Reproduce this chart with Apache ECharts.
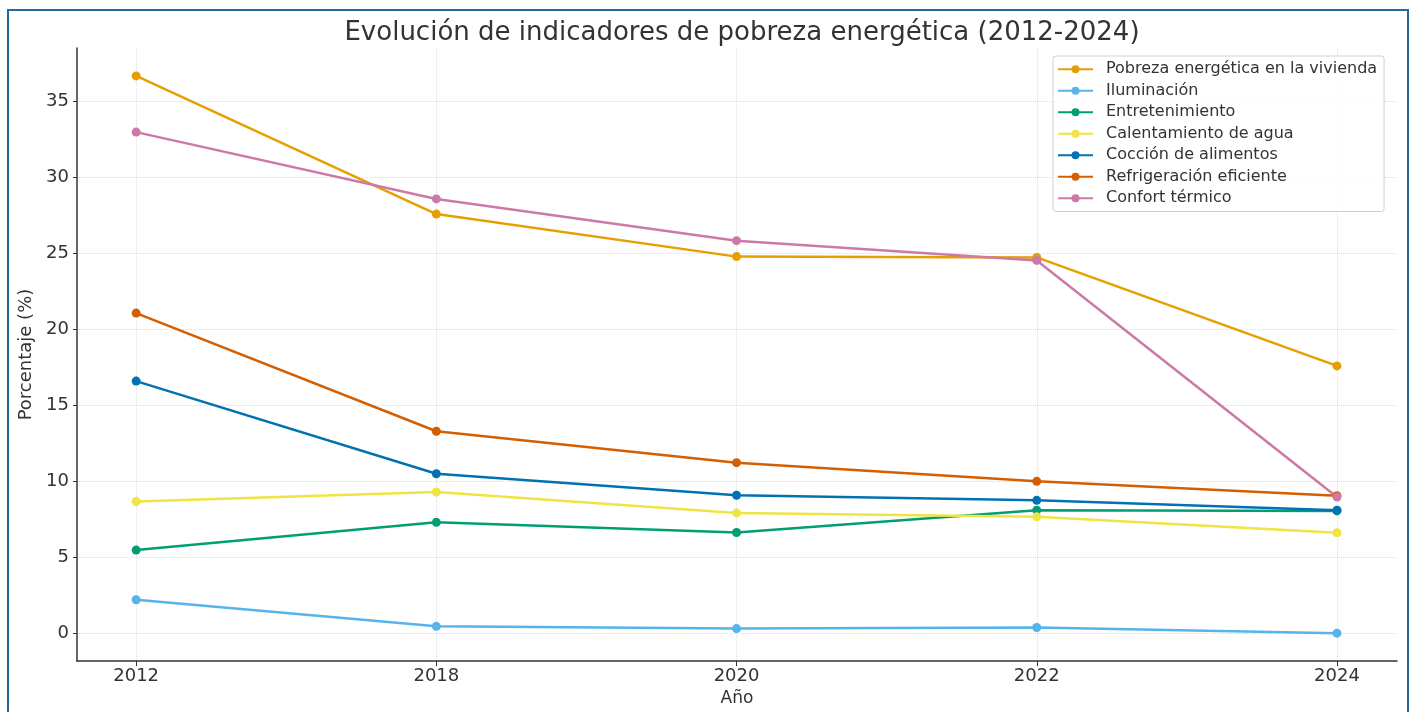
<!DOCTYPE html>
<html>
<head>
<meta charset="utf-8">
<script src="https://cdn.jsdelivr.net/npm/echarts@6/dist/echarts.min.js"></script>
<style>
  html, body { margin: 0; padding: 0; background: #fff; }
  #chart { width: 1412px; height: 712px; }
</style>
</head>
<body>
<div id="chart"></div>
<script>
// años (eje x por índice, espaciado uniforme como en la figura)
var years = ['2012', '2018', '2020', '2022', '2024'];
var yTicks = [0, 5, 10, 15, 20, 25, 30, 35];

var names = [
  'Pobreza energética en la vivienda',
  'Iluminación',
  'Entretenimiento',
  'Calentamiento de agua',
  'Cocción de alimentos',
  'Refrigeración eficiente',
  'Confort térmico'
];
var colors = ['#E69F00', '#56B4E9', '#009E73', '#F0E442', '#0072B2', '#D55E00', '#CC79A7'];

var pobreza = [36.7, 27.6, 24.8, 24.75, 17.6];
var iluminacion = [2.2, 0.45, 0.3, 0.37, 0.0];
var entretenimiento = [5.47, 7.3, 6.63, 8.1, 8.05];
var calentamiento = [8.67, 9.3, 7.92, 7.66, 6.61];
var coccion = [16.6, 10.5, 9.08, 8.75, 8.1];
var refrigeracion = [21.08, 13.3, 11.23, 10.0, 9.05];
var confort = [33.0, 28.6, 25.85, 24.55, 8.97];

var values = [pobreza, iluminacion, entretenimiento, calentamiento, coccion, refrigeracion, confort];

var font = 'DejaVu Sans';

var series = names.map(function (n, i) {
  return {
    name: n,
    type: 'line',
    data: values[i].map(function (v, j) { return [j, v]; }),
    symbol: 'circle',
    symbolSize: 9,
    color: colors[i],
    lineStyle: { width: 2.5 },
    emphasis: { disabled: true }
  };
});

var myChart = echarts.init(document.getElementById('chart'));
var option = {
  backgroundColor: '#fff',
  animation: false,
  textStyle: { fontFamily: font },
  title: {
    text: 'Evolución de indicadores de pobreza energética (2012-2024)',
    left: 737,
    textAlign: 'center',
    top: 15,
    textStyle: { fontFamily: font, fontSize: 26, fontWeight: 'normal', color: '#333' }
  },
  graphic: [{
    type: 'rect',
    shape: { x: 8, y: 10, width: 1400, height: 720 },
    style: { fill: 'none', stroke: '#21689b', lineWidth: 2 },
    silent: true
  }],
  legend: {
    orient: 'vertical',
    left: 1053,
    top: 56,
    padding: [5, 7, 5, 4],
    itemGap: 5,
    itemWidth: 35,
    itemHeight: 10,
    backgroundColor: 'rgba(255,255,255,0.85)',
    borderColor: '#d0d0d0',
    borderWidth: 1,
    borderRadius: 3,
    textStyle: { fontFamily: font, fontSize: 16, color: '#333', lineHeight: 16.5, padding: [0, 0, 0, 8] },
    data: names
  },
  grid: { left: 77, right: 15, top: 48, bottom: 49, containLabel: false },
  xAxis: {
    type: 'value',
    min: -0.197,
    max: 4.2,
    name: 'Año',
    nameLocation: 'middle',
    nameGap: 27,
    nameTextStyle: { fontFamily: font, fontSize: 17, color: '#333' },
    axisLine: { onZero: false, lineStyle: { color: '#333', width: 1.5 } },
    axisTick: { show: true, length: 5, customValues: [0, 1, 2, 3, 4], lineStyle: { color: '#333' } },
    axisLabel: {
      customValues: [0, 1, 2, 3, 4],
      formatter: function (v) { return years[Math.round(v)]; },
      fontFamily: font, fontSize: 18, color: '#333', margin: 6
    },
    splitLine: { show: true, lineStyle: { color: '#dddddd', type: 'dotted', width: 1 } }
  },
  yAxis: {
    type: 'value',
    min: -1.84,
    max: 38.54,
    name: 'Porcentaje (%)',
    nameLocation: 'middle',
    nameGap: 40,
    nameTextStyle: { fontFamily: font, fontSize: 18, color: '#333' },
    axisLine: { show: true, onZero: false, lineStyle: { color: '#333', width: 1.5 } },
    axisTick: { show: true, length: 4, customValues: yTicks, lineStyle: { color: '#333' } },
    axisLabel: {
      customValues: yTicks,
      fontFamily: font, fontSize: 18, color: '#333', margin: 8
    },
    splitLine: { show: true, lineStyle: { color: '#dddddd', type: 'dotted', width: 1 } }
  },
  series: series
};
myChart.setOption(option);
</script>
</body>
</html>
